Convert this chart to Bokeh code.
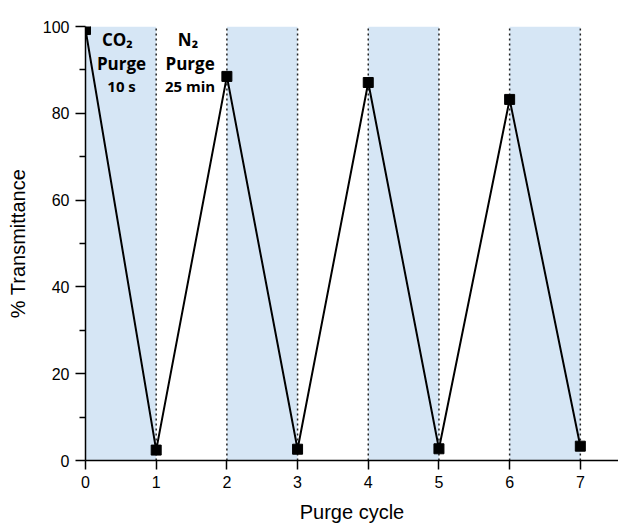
from bokeh.plotting import figure
from bokeh.models import Range1d, FixedTicker, ColumnDataSource
from bokeh.core.properties import value
from bokeh.embed import file_html
from bokeh.resources import INLINE

# Data
cycle = [0, 1, 2, 3, 4, 5, 6, 7]
transmittance = [99.3, 2.4, 88.5, 2.6, 87.1, 2.7, 83.2, 3.3]
co2_starts = [0, 2, 4, 6]
co2_ends = [1, 3, 5, 7]
divider_x = [1, 2, 3, 4, 5, 6, 7]
x_ticks = [0, 1, 2, 3, 4, 5, 6, 7]
y_ticks = [0, 20, 40, 60, 80, 100]
y_minor = [10, 30, 50, 70, 90]

p = figure(width=618, height=525, output_backend="svg", toolbar_location=None,
           x_range=Range1d(0, 7.54), y_range=Range1d(0, 100),
           min_border_left=85, min_border_right=0, min_border_top=26, min_border_bottom=64)
p.grid.visible = False
p.outline_line_color = None
p.background_fill_color = "white"

# shaded CO2 purge regions
p.quad(left=co2_starts, right=co2_ends, bottom=0, top=100,
       fill_color="#d6e6f5", line_color=None)

# dotted dividers
p.segment(x0=divider_x, y0=[0]*len(divider_x), x1=divider_x, y1=[100]*len(divider_x),
          line_color="#222222", line_width=1.5, line_dash="2 3")

# data line and markers
src = ColumnDataSource(dict(x=cycle, y=transmittance))
p.line("x", "y", source=src, line_color="black", line_width=2)
p.scatter("x", "y", source=src, marker="square", size=10, fill_color="black", line_color="black")

# annotations
font = value("Open Sans")
p.text(x=[0.45, 0.51], y=[97.0, 91.4], text=["CO\u2082", "Purge"], text_align="center",
       text_baseline="middle", text_font=font, text_font_style="bold", text_font_size="17px",
       text_color="black")
p.text(x=[0.51], y=[86.4], text=["10 s"], text_align="center", text_baseline="middle",
       text_font=font, text_font_style="bold", text_font_size="15px", text_color="black")
p.text(x=[1.45, 1.48], y=[97.0, 91.4], text=["N\u2082", "Purge"], text_align="center",
       text_baseline="middle", text_font=font, text_font_style="bold", text_font_size="17px",
       text_color="black")
p.text(x=[1.48], y=[86.4], text=["25 min"], text_align="center", text_baseline="middle",
       text_font=font, text_font_style="bold", text_font_size="15px", text_color="black")

# axes
p.xaxis.ticker = FixedTicker(ticks=x_ticks)
p.yaxis.ticker = FixedTicker(ticks=y_ticks, minor_ticks=y_minor)
for ax in (p.xaxis, p.yaxis):
    ax.axis_line_color = "black"
    ax.axis_line_width = 1.5
    ax.major_tick_line_color = "black"
    ax.major_tick_line_width = 1.5
    ax.minor_tick_line_color = "black"
    ax.minor_tick_line_width = 1.5
    ax.major_label_text_font = "Liberation Sans"
    ax.major_label_text_font_size = "16px"
    ax.major_label_text_color = "black"
    ax.axis_label_text_font = "Liberation Sans"
    ax.axis_label_text_font_size = "20px"
    ax.axis_label_text_font_style = "normal"
    ax.axis_label_text_color = "black"
    ax.major_tick_in = 0
    ax.minor_tick_in = 0
p.xaxis.major_tick_out = 9
p.xaxis.minor_tick_out = 0
p.yaxis.major_tick_out = 10
p.yaxis.minor_tick_out = 6
p.xaxis.axis_label = "Purge cycle"
p.yaxis.axis_label = "% Transmittance"
p.xaxis.major_label_standoff = 6
p.yaxis.major_label_standoff = 6
p.xaxis.axis_label_standoff = 10
p.yaxis.axis_label_standoff = 11

open("out.html", "w").write(file_html(p, INLINE))
